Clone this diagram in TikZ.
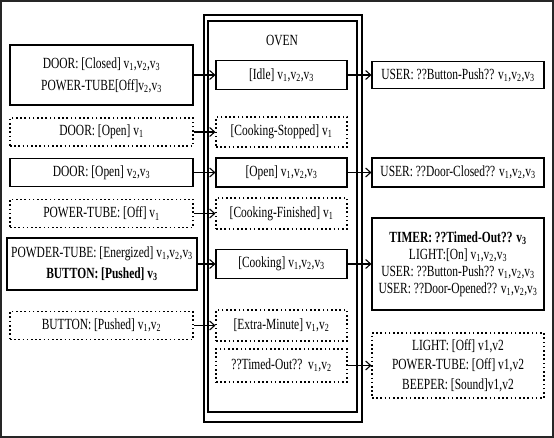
\documentclass[tikz,border=0pt]{standalone}
\usepackage{fontspec}
\setmainfont{Liberation Serif}[FakeStretch=0.74]
\usetikzlibrary{arrows.meta}
\newcommand{\vv}[1]{v\textsubscript{#1}}

\begin{document}
\begin{tikzpicture}[x=1pt,y=-1pt,font=\fontsize{15.5}{17}\selectfont,
  sbox/.style={draw, line width=1.1pt, align=center, inner sep=1pt},
  dbox/.style={sbox, dash pattern=on 1.6pt off 2.6pt},
  lcol/.style={minimum width=183pt, minimum height=28pt},
  mcol/.style={minimum width=131pt, minimum height=29pt},
  rcol/.style={minimum width=172pt, minimum height=28pt},
  arr/.style={line width=1.1pt, -{Straight Barb[length=5pt,width=9pt]}}]
  \useasboundingbox (0,0) rectangle (554,438);
  \draw[line width=1.4pt, black!85] (1,1) rectangle (553,437);
  % the oven, drawn as a double frame
  \draw[line width=1.2pt] (204,15) rectangle (362,422);
  \draw[line width=1.2pt] (208,21) rectangle (357,412);
  \node (oven) at (282,40) {OVEN};
  % conditions on the left
  \node[sbox, lcol, minimum height=60pt] (L1) at (101.5,75)
    {DOOR: [Closed] \vv1,\vv2,\vv3\\[5pt]POWER-TUBE[Off]\vv2,\vv3};
  \node[dbox, lcol] (L2) at (101.5,132) {DOOR: [Open] \vv1};
  \node[sbox, lcol] (L3) at (101.5,172.5) {DOOR: [Open] \vv2,\vv3};
  \node[dbox, lcol] (L4) at (101.5,213.5) {POWER-TUBE: [Off] \vv1};
  \node[sbox, lcol, minimum width=190pt, minimum height=52pt] (L5) at (102,264)
    {POWDER-TUBE: [Energized] \vv1,\vv2,\vv3\\[4pt]\textbf{BUTTON: [Pushed] \vv3}};
  \node[dbox, lcol] (L6) at (101.5,325.5) {BUTTON: [Pushed] \vv1,\vv2};
  % oven states
  \node[sbox, mcol] (M1) at (281.5,75) {[Idle] \vv1,\vv2,\vv3};
  \node[dbox, mcol, minimum height=30pt] (M2) at (281.5,132) {[Cooking-Stopped] \vv1};
  \node[sbox, mcol] (M3) at (281.5,172.5) {[Open] \vv1,\vv2,\vv3};
  \node[dbox, mcol, minimum height=31pt] (M4) at (281.5,213.5) {[Cooking-Finished] \vv1};
  \node[sbox, mcol] (M5) at (281.5,264) {[Cooking] \vv1,\vv2,\vv3};
  \node[dbox, mcol, minimum height=31pt] (M6) at (281.5,325.5) {[Extra-Minute] \vv1,\vv2};
  \node[dbox, mcol, minimum height=33pt] (M7) at (281.5,365.5) {??Timed-Out??\ \ \vv1,\vv2};
  % events on the right
  \node[sbox, rcol, minimum height=27pt] (R1) at (458,75) {USER: ??Button-Push?? \vv1,\vv2,\vv3};
  \node[sbox, rcol, minimum height=29pt] (R2) at (458,172.5) {USER: ??Door-Closed?? \vv1,\vv2,\vv3};
  \node[sbox, rcol, minimum height=92pt] (R3) at (458,264)
    {\textbf{TIMER: ??Timed-Out?? \vv3}\\LIGHT:[On] \vv1,\vv2,\vv3\\
     USER: ??Button-Push?? \vv1,\vv2,\vv3\\USER: ??Door-Opened?? \vv1,\vv2,\vv3};
  \node[dbox, rcol, minimum height=65pt] (R4) at (458,365.5)
    {LIGHT: [Off] v1,v2\\[2.5pt]POWER-TUBE: [Off] v1,v2\\[2.5pt]BEEPER: [Sound]v1,v2};
  \foreach \a/\b in {L1/M1, L2/M2, L3/M3, L4/M4, L5/M5, L6/M6, M1/R1, M3/R2, M5/R3, M7/R4}
    {\draw[arr] (\a.east) -- (\b.west);}
\end{tikzpicture}
\end{document}
